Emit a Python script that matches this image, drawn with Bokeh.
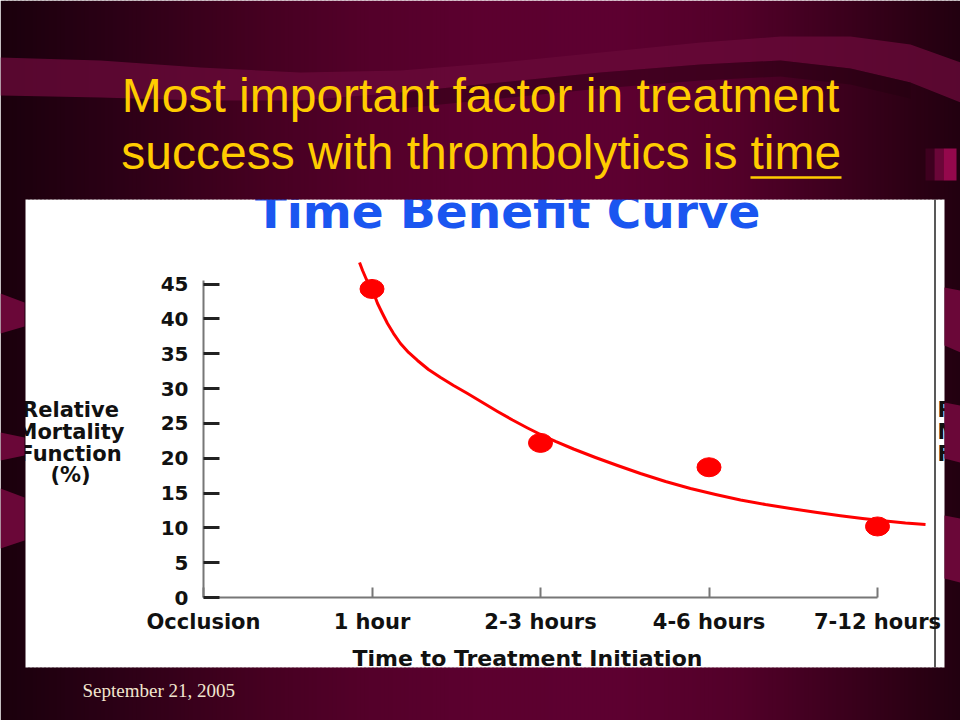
from bokeh.plotting import figure
from bokeh.models import Range1d, LinearAxis, FixedTicker
from bokeh.core.properties import value
from bokeh.embed import file_html
from bokeh.resources import INLINE

# ---------------- data ----------------
categories = ["Occlusion", "1 hour", "2-3 hours", "4-6 hours", "7-12 hours"]
point_pos = [1, 2, 3, 4]
mortality = [44.3, 22.2, 18.7, 10.2]
curve_pos = [0.926, 0.944, 0.967, 0.991, 1.015, 1.033, 1.062, 1.092, 1.128, 1.169,
             1.217, 1.270, 1.335, 1.407, 1.484, 1.567, 1.656, 1.745, 1.834, 1.923,
             2.006, 2.089, 2.196, 2.326, 2.457, 2.593, 2.742, 2.890, 3.039, 3.187,
             3.335, 3.484, 3.632, 3.780, 3.911, 4.047, 4.166, 4.285]
curve_val = [48.10, 46.95, 45.66, 44.51, 43.36, 42.21, 40.78, 39.34, 37.90, 36.47,
             35.18, 34.03, 32.74, 31.59, 30.44, 29.29, 28.00, 26.71, 25.48, 24.34,
             23.33, 22.40, 21.32, 20.10, 18.95, 17.80, 16.65, 15.65, 14.79, 14.00,
             13.35, 12.78, 12.23, 11.73, 11.34, 10.97, 10.68, 10.48]
y_ticks = [0, 5, 10, 15, 20, 25, 30, 35, 40, 45]
y_label_lines = ["Relative", "Mortality", "Function", "(%)"]
right_fragments = ["R", "M", "F"]
chart_title = "Time Benefit Curve"
x_title = "Time to Treatment Initiation"
slide_title_1 = "Most important factor in treatment"
slide_title_2a = "success with thrombolytics is"
slide_title_2b = "time"
date_text = "September 21, 2005"

# ---------------- layout (page pixels) ----------------
W, H = 960, 720
X0_PAGE, PX_PER_CAT = 203.0, 168.5
Y0_PAGE, PX_PER_PCT = 597.0, 6.965
BASE_SHIFT = 0.38  # em; compensates the renderer's baseline placement


def X(px):
    return (px - X0_PAGE) / PX_PER_CAT


def Y(py):
    return (Y0_PAGE - py) / PX_PER_PCT


def YB(py, fs):
    """data y for a text whose alphabetic baseline should sit at page y = py"""
    return Y(py - BASE_SHIFT * fs)


p = figure(width=W, height=H, output_backend="svg", toolbar_location=None,
           x_range=Range1d(X(0), X(W)), y_range=Range1d(Y(H), Y(0)),
           x_axis_type=None, y_axis_type=None, min_border=0)
p.outline_line_color = None
p.background_fill_color = "white"
p.border_fill_color = "#3a001e"

# right edge of the pasted picture
p.segment(x0=[X(934.5)], y0=[Y(199)], x1=[X(934.5)], y1=[Y(667)],
          line_color="#222222", line_width=1.5)

# ---------------- chart marks ----------------
p.line(curve_pos, curve_val, line_color="#ff0000", line_width=3, line_join="round")
p.ellipse(x=point_pos, y=mortality, width=24, height=19,
          width_units="screen", height_units="screen",
          fill_color="#ff0000", line_color="#ff0000")

BOLD = dict(text_font=value("DejaVu Sans"), text_font_style="bold",
            text_baseline="alphabetic")

p.text(x=[X(507)], y=[YB(229, 47)], text=[chart_title], text_color="#1a56f0",
       text_font_size="47px", text_align="center", **BOLD)
p.text(x=[X(527)], y=[YB(666, 22)], text=[x_title], text_color="#111111",
       text_font_size="22px", text_align="center", **BOLD)
line_base = [417, 439, 461, 482]
p.text(x=[X(70)] * 4, y=[YB(b, 21) for b in line_base], text=y_label_lines,
       text_color="#111111", text_font_size="21px", text_align="center", **BOLD)
p.text(x=[X(937)] * 3, y=[YB(b, 21) for b in line_base[:3]], text=right_fragments,
       text_color="#111111", text_font_size="21px", text_align="left", **BOLD)

# ---------------- axes ----------------
yaxis = LinearAxis(fixed_location=0, ticker=FixedTicker(ticks=y_ticks), bounds=(0, 45.5))
yaxis.major_tick_in = 16
yaxis.major_tick_out = 0
yaxis.minor_tick_in = 0
yaxis.minor_tick_out = 0
yaxis.axis_line_color = "#777777"
yaxis.axis_line_width = 2
yaxis.major_tick_line_color = "#222222"
yaxis.major_tick_line_width = 3
yaxis.major_label_text_font = "DejaVu Sans"
yaxis.major_label_text_font_style = "bold"
yaxis.major_label_text_font_size = "20px"
yaxis.major_label_text_color = "#111111"
yaxis.major_label_standoff = 15
p.add_layout(yaxis, "left")

xaxis = LinearAxis(fixed_location=0, ticker=FixedTicker(ticks=list(range(len(categories)))),
                   bounds=(0, len(categories) - 1))
xaxis.major_label_overrides = {i: c for i, c in enumerate(categories)}
xaxis.major_tick_in = 10
xaxis.major_tick_out = 0
xaxis.minor_tick_in = 0
xaxis.minor_tick_out = 0
xaxis.axis_line_color = "#777777"
xaxis.axis_line_width = 2
xaxis.major_tick_line_color = "#777777"
xaxis.major_tick_line_width = 2
xaxis.major_label_text_font = "DejaVu Sans"
xaxis.major_label_text_font_style = "bold"
xaxis.major_label_text_font_size = "21px"
xaxis.major_label_text_color = "#111111"
xaxis.major_label_standoff = 12
p.add_layout(xaxis, "below")

# ---------------- slide background (outside the pasted picture) ----------------
stops = [(0, (26, 0, 12)), (120, (44, 0, 22)), (240, (66, 0, 31)), (360, (83, 0, 41)),
         (480, (92, 0, 47)), (620, (93, 0, 48)), (740, (82, 0, 41)), (840, (60, 0, 29)),
         (920, (42, 0, 19)), (960, (34, 0, 16))]


def bg_color(px):
    for (a, ca), (b, cb) in zip(stops[:-1], stops[1:]):
        if a <= px <= b:
            t = (px - a) / (b - a)
            c = [round(ca[k] + (cb[k] - ca[k]) * t) for k in range(3)]
            return "#%02x%02x%02x" % tuple(c)
    return "#%02x%02x%02x" % stops[-1][1]


L, R, T, B, C = [], [], [], [], []
STEP = 4
for sx in range(0, W, STEP):
    col = bg_color(sx + STEP / 2)
    if 24 <= sx < 944:
        parts = [(0, 199), (667, H)]
    else:
        parts = [(0, H)]
    for t0, b0 in parts:
        L.append(X(sx)); R.append(X(sx + STEP + 1)); T.append(Y(t0)); B.append(Y(b0)); C.append(col)
p.quad(left=L, right=R, top=T, bottom=B, fill_color=C, line_color=None)

# wave bands
band_top = [(0, 57), (100, 60), (200, 67), (300, 72), (400, 70), (500, 62), (600, 52),
            (700, 42), (780, 36), (850, 36), (910, 44), (960, 62)]
band_bot = [(960, 102), (910, 82), (850, 68), (780, 60), (700, 64), (600, 72), (500, 82),
            (400, 92), (300, 100), (200, 100), (100, 97), (0, 95)]
poly = band_top + band_bot
p.patch([X(a) for a, b in poly], [Y(b) for a, b in poly], fill_color="#680938",
        fill_alpha=0.8, line_color=None)
sh_top = [pt for pt in band_bot if 400 <= pt[0] <= 910][::-1]
sh_bot = [(a, b + 16) for a, b in sh_top][::-1]
sh = sh_top + sh_bot
p.patch([X(a) for a, b in sh], [Y(b) for a, b in sh], fill_color="#24000f",
        fill_alpha=0.45, line_color=None)

side_bands = [
    [(0, 293), (24, 302), (24, 326), (0, 333)],
    [(0, 432), (24, 437), (24, 455), (0, 460)],
    [(0, 488), (24, 497), (24, 540), (0, 548)],
    [(944, 287), (960, 290), (960, 352), (944, 345)],
    [(944, 402), (960, 405), (960, 462), (944, 458)],
    [(944, 515), (960, 518), (960, 582), (944, 578)],
]
p.patches([[X(a) for a, b in s] for s in side_bands], [[Y(b) for a, b in s] for s in side_bands],
          fill_color="#6a0738", line_color=None)
p.quad(left=[X(925), X(934), X(943)], right=[X(934), X(943), X(956)],
       top=[Y(148)] * 3, bottom=[Y(180)] * 3,
       fill_color=["#3e001f", "#6a0638", "#94084c"], line_color=None)

# ---------------- slide texts ----------------
TF = dict(text_font=value("Liberation Sans"), text_font_size="48px", text_color="#ffcc00",
          text_baseline="alphabetic")
p.text(x=[X(480)], y=[YB(113, 48)], text=[slide_title_1], text_align="center", **TF)
p.text(x=[X(737)], y=[YB(170, 48)], text=[slide_title_2a], text_align="right", **TF)
p.text(x=[X(750)], y=[YB(170, 48)], text=[slide_title_2b], text_align="left", **TF)
p.segment(x0=[X(750)], y0=[Y(177)], x1=[X(841)], y1=[Y(177)], line_color="#ffcc00", line_width=2.5)
p.text(x=[X(82)], y=[YB(697, 19)], text=[date_text], text_font=value("Liberation Serif"),
       text_font_size="19px", text_color="#f2e6cf", text_align="left", text_baseline="alphabetic")

open("out.html", "w").write(file_html(p, INLINE))
